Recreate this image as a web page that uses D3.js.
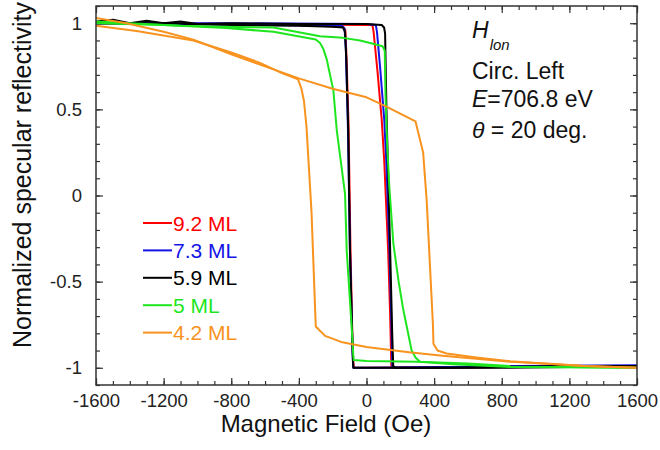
<!DOCTYPE html>
<html>
<head>
<meta charset="utf-8">
<script src="https://cdn.jsdelivr.net/npm/d3@7"></script>
<style>
  body { margin: 0; background: #fff; }
  svg { font-family: "Liberation Sans", Arial, sans-serif; }
</style>
</head>
<body>
<div id="chart"></div>
<script>
// field (Oe) and normalized reflectivity
// "down" = field swept from +1600 to -1600, "up" = from -1600 to +1600
let red92Down = [[1600,-0.99],[800,-0.995],[0,-1.0],[-75,-1.0],[-82,-0.9],[-95,-0.3],[-106,0.4],[-118,0.8],[-125,0.96],[-140,0.98],[-400,0.99],[-1600,1.0]];
let red92Up = [[-1600,1.0],[-800,0.995],[0,0.99],[35,0.99],[42,0.95],[65,0.72],[90,0.44],[105,0.2],[128,-0.32],[140,-0.7],[147,-0.99],[160,-1.0],[400,-1.0],[800,-0.995],[1600,-0.99]];

let blue73Down = [[1600,-0.99],[1200,-0.99],[800,-0.995],[0,-1.0],[-78,-1.0],[-82,-0.93],[-98,-0.3],[-110,0.4],[-122,0.85],[-130,0.97],[-145,0.985],[-600,0.99],[-1600,1.0]];
let blue73Up = [[-1600,1.0],[-800,1.0],[0,0.995],[55,0.99],[62,0.95],[80,0.75],[105,0.44],[117,0.2],[136,-0.32],[146,-0.7],[153,-0.99],[165,-1.0],[500,-0.995],[900,-0.99],[1600,-0.985]];

let black59Down = [[1600,-0.99],[1200,-0.995],[800,-1.0],[0,-1.0],[-78,-1.0],[-80,-0.96],[-98,-0.32],[-108,0.38],[-120,0.8],[-127,0.95],[-139,0.975],[-200,0.98],[-400,0.985],[-800,0.99],[-1200,1.0],[-1600,1.0]];
let black59Up = [[-1600,1.01],[-1500,1.02],[-1400,1.0],[-1300,1.015],[-1200,1.0],[-1100,1.01],[-1000,0.995],[-800,1.0],[-400,0.995],[0,0.995],[90,0.99],[104,0.975],[110,0.94],[118,0.5],[126,0.2],[140,-0.32],[152,-0.8],[158,-0.99],[170,-1.0],[500,-1.0],[800,-0.995],[1200,-0.99],[1600,-0.99]];

let green5Down = [[1600,-1.0],[1200,-0.995],[850,-0.99],[600,-0.975],[300,-0.965],[0,-0.96],[-75,-0.955],[-78,-0.93],[-88,-0.76],[-117,-0.32],[-127,0.01],[-176,0.38],[-196,0.61],[-220,0.72],[-235,0.79],[-255,0.85],[-275,0.885],[-300,0.905],[-550,0.95],[-830,0.973],[-1200,0.99],[-1600,1.0]];
let green5Up = [[-1600,1.01],[-1400,1.0],[-1100,0.985],[-860,0.98],[-550,0.975],[-275,0.924],[-139,0.915],[-38,0.9],[21,0.885],[95,0.866],[108,0.84],[112,0.6],[122,0.3],[135,0.05],[159,-0.28],[190,-0.5],[218,-0.665],[267,-0.9],[290,-0.94],[316,-0.965],[513,-0.98],[849,-0.995],[1600,-1.0]];

let orange42Down = [[1600,-1.0],[1300,-0.99],[1050,-0.975],[850,-0.965],[650,-0.948],[450,-0.93],[250,-0.91],[0,-0.88],[-150,-0.85],[-245,-0.815],[-300,-0.76],[-310,-0.5],[-325,-0.1],[-340,0.15],[-355,0.4],[-370,0.55],[-385,0.62],[-405,0.675],[-500,0.71],[-630,0.77],[-800,0.83],[-1024,0.9],[-1360,0.955],[-1600,0.985]];
let orange42Up = [[-1600,1.03],[-1420,1.0],[-1200,0.95],[-1024,0.905],[-800,0.82],[-630,0.76],[-400,0.68],[-200,0.62],[0,0.57],[100,0.525],[290,0.43],[335,0.25],[356,-0.03],[375,-0.4],[393,-0.75],[396,-0.86],[420,-0.9],[474,-0.917],[650,-0.94],[850,-0.962],[1050,-0.975],[1280,-0.99],[1600,-1.0]];

let seriesNames = ["9.2 ML", "7.3 ML", "5.9 ML", "5 ML", "4.2 ML"];
let seriesColors = ["#ff0000", "#1414e6", "#000000", "#1ee61e", "#f7931e"];
let seriesLoops = [
    [red92Down, red92Up],
    [blue73Down, blue73Up],
    [black59Down, black59Up],
    [green5Down, green5Up],
    [orange42Down, orange42Up]
];

let xMajorTicks = [-1600, -1200, -800, -400, 0, 400, 800, 1200, 1600];
let yMajorTicks = [-1, -0.5, 0, 0.5, 1];

let width = 660, height = 450;
let plotLeft = 96, plotRight = 637, plotTop = 6, plotBottom = 385;

let svg = d3.select("#chart").append("svg")
    .attr("width", width)
    .attr("height", height);

let x = d3.scaleLinear().domain([-1600, 1600]).range([plotLeft, plotRight]);
let y = d3.scaleLinear().domain([-1.1, 1.1]).range([plotBottom, plotTop]);

let xMinor = d3.range(-1600, 1601, 100);
let yMinor = d3.range(-11, 12).map(d => d / 10);

function styleAxis(g) {
    g.select(".domain").remove();
    g.selectAll("line").attr("stroke", "#333").attr("stroke-width", 1.2);
    g.selectAll("text")
        .style("font-size", "18.5px")
        .style("fill", "#222")
        .style("font-family", "'Liberation Sans', Arial, sans-serif");
}

// bottom axis, ticks pointing in
svg.append("g")
    .attr("transform", "translate(0," + plotBottom + ")")
    .call(d3.axisBottom(x).tickValues(xMinor).tickSize(-4).tickFormat(""))
    .call(styleAxis);
svg.append("g")
    .attr("transform", "translate(0," + plotBottom + ")")
    .call(d3.axisBottom(x).tickValues(xMajorTicks).tickSize(-7).tickPadding(9).tickFormat(d => String(d)))
    .call(styleAxis);

// top mirror ticks
svg.append("g")
    .attr("transform", "translate(0," + plotTop + ")")
    .call(d3.axisTop(x).tickValues(xMinor).tickSize(-4).tickFormat(""))
    .call(styleAxis);
svg.append("g")
    .attr("transform", "translate(0," + plotTop + ")")
    .call(d3.axisTop(x).tickValues(xMajorTicks).tickSize(-7).tickFormat(""))
    .call(styleAxis);

// left axis
svg.append("g")
    .attr("transform", "translate(" + plotLeft + ",0)")
    .call(d3.axisLeft(y).tickValues(yMinor).tickSize(-4).tickFormat(""))
    .call(styleAxis);
svg.append("g")
    .attr("transform", "translate(" + plotLeft + ",0)")
    .call(d3.axisLeft(y).tickValues(yMajorTicks).tickSize(-7).tickPadding(14).tickFormat(d => String(d)))
    .call(styleAxis);

// right mirror ticks
svg.append("g")
    .attr("transform", "translate(" + plotRight + ",0)")
    .call(d3.axisRight(y).tickValues(yMinor).tickSize(-4).tickFormat(""))
    .call(styleAxis);
svg.append("g")
    .attr("transform", "translate(" + plotRight + ",0)")
    .call(d3.axisRight(y).tickValues(yMajorTicks).tickSize(-7).tickFormat(""))
    .call(styleAxis);

// clip so nothing draws over the frame
svg.append("defs").append("clipPath")
    .attr("id", "plotClip")
    .append("rect")
    .attr("x", plotLeft)
    .attr("y", plotTop)
    .attr("width", plotRight - plotLeft)
    .attr("height", plotBottom - plotTop);

let line = d3.line()
    .x(d => x(d[0]))
    .y(d => y(d[1]));

let plot = svg.append("g").attr("clip-path", "url(#plotClip)");

for (let i = 0; i < seriesLoops.length; i++) {
    for (let branch of seriesLoops[i]) {
        plot.append("path")
            .attr("d", line(branch))
            .attr("fill", "none")
            .attr("stroke", seriesColors[i])
            .attr("stroke-width", 2)
            .attr("stroke-linejoin", "round");
    }
}

// frame
svg.append("rect")
    .attr("x", plotLeft)
    .attr("y", plotTop)
    .attr("width", plotRight - plotLeft)
    .attr("height", plotBottom - plotTop)
    .attr("fill", "none")
    .attr("stroke", "#333")
    .attr("stroke-width", 1.5);

// legend
for (let i = 0; i < seriesNames.length; i++) {
    let cy = 223 + i * 27.4;
    svg.append("line")
        .attr("x1", 143)
        .attr("x2", 172)
        .attr("y1", cy)
        .attr("y2", cy)
        .attr("stroke", seriesColors[i])
        .attr("stroke-width", 2);
    svg.append("text")
        .attr("x", 173)
        .attr("y", cy)
        .attr("dy", "0.36em")
        .style("font-size", "21px")
        .style("fill", seriesColors[i])
        .text(seriesNames[i]);
}

// annotation
let note = svg.append("g").style("font-size", "23px").style("fill", "#111");
let h = note.append("text").attr("x", 472).attr("y", 38);
h.append("tspan").style("font-style", "italic").text("H");
h.append("tspan").attr("dy", 12).attr("dx", 1).style("font-style", "italic").style("font-size", "15px").text("lon");

note.append("text").attr("x", 472).attr("y", 79).text("Circ. Left");

let e = note.append("text").attr("x", 472).attr("y", 107);
e.append("tspan").style("font-style", "italic").text("E");
e.append("tspan").text("=706.8 eV");

let t = note.append("text").attr("x", 472).attr("y", 138);
t.append("tspan").style("font-style", "italic").text("θ");
t.append("tspan").text(" = 20 deg.");

// axis titles
svg.append("text")
    .attr("x", 326)
    .attr("y", 432)
    .attr("text-anchor", "middle")
    .style("font-size", "24px")
    .style("fill", "#111")
    .text("Magnetic Field (Oe)");

svg.append("text")
    .attr("transform", "translate(31,175) rotate(-90)")
    .attr("text-anchor", "middle")
    .style("font-size", "25px")
    .style("fill", "#111")
    .text("Normalized specular reflectivity");
</script>
</body>
</html>
